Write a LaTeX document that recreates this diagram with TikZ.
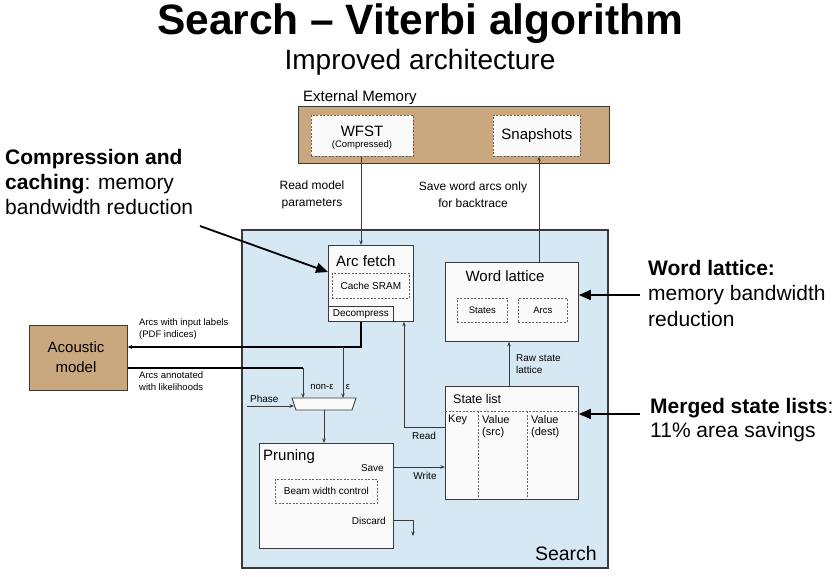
\documentclass[tikz,border=0pt]{standalone}
\usepackage{fontspec}
\setmainfont{Liberation Sans}
\usetikzlibrary{arrows.meta,calc}
\definecolor{memtan}{HTML}{C9A87F}
\definecolor{searchblue}{HTML}{D6E8F3}
\definecolor{boxwhite}{HTML}{FAFAFA}
\definecolor{edgegray}{HTML}{3A3A3A}
\begin{document}
\begin{tikzpicture}[x=1pt,y=-1pt,
  fs/.style={font=\fontsize{#1}{#1}\selectfont},
  lbl/.style={inner sep=0pt, text=black},
  box/.style={draw=edgegray, line width=0.8pt, fill=boxwhite, inner sep=0pt, anchor=north west},
  dbox/.style={draw=edgegray!80, line width=0.7pt, dash pattern=on 2pt off 1.5pt, fill=boxwhite, inner sep=0pt, anchor=north west},
  conn/.style={draw=edgegray, line width=0.8pt, -{Stealth[length=4.5pt,width=3.5pt]}},
  thickconn/.style={draw=black, line width=1.6pt, -{Stealth[length=4.5pt,width=4pt]}},
  bigarrow/.style={draw=black, line width=1.8pt, -{Triangle[length=12pt,width=10pt]}},
]
\useasboundingbox (0,0) rectangle (838,577);
\fill[white] (0,0) rectangle (838,577);

% titles
\node[lbl, fs=42.5, font=\bfseries\fontsize{42.5}{42.5}\selectfont, anchor=base] (title) at (420,35) {Search -- Viterbi algorithm};
\node[lbl, fs=28, anchor=base] (subtitle) at (420,70) {Improved architecture};

% external memory
\node[lbl, fs=15, anchor=base west] (extlbl) at (303,102) {External Memory};
\node[box, fill=memtan, line width=1.2pt, minimum width=311, minimum height=57] (extmem) at (298,106) {};
\node[dbox, minimum width=102, minimum height=41] (wfst) at (311,115) {};
\node[lbl, fs=15] (wfsttxt) at (362,131) {WFST};
\node[lbl, fs=9.5] (wfstsub) at (362,145) {(Compressed)};
\node[dbox, minimum width=87, minimum height=41, fs=15] (snap) at (493,115) {Snapshots};

% search region
\node[box, fill=searchblue, line width=1.8pt, minimum width=366, minimum height=338] (search) at (241,229) {};
\node[lbl, fs=19.5, anchor=base east] (searchlbl) at (597,560) {Search};

% acoustic model
\node[box, fill=memtan, minimum width=98, minimum height=65] (acoustic) at (29,325) {};
\node[lbl, fs=15, align=center, font=\fontsize{15}{20}\selectfont] (acotxt) at (76,357) {Acoustic\\model};

% arc fetch
\node[box, minimum width=85, minimum height=76] (arcfetch) at (328,245) {};
\node[lbl, fs=15, anchor=west] (aftxt) at (336,261) {Arc fetch};
\node[dbox, minimum width=77, minimum height=25, fs=10] (cache) at (332,273) {Cache SRAM};
\node[box, minimum width=65, minimum height=15, fs=10] (decomp) at (328,306) {Decompress};

% word lattice
\node[box, minimum width=133, minimum height=79] (wlat) at (445,262) {};
\node[lbl, fs=15] (wltxt) at (505,276) {Word lattice};
\node[dbox, minimum width=50, minimum height=24, fs=9.5] (states) at (457,298) {States};
\node[dbox, minimum width=49, minimum height=24, fs=9.5] (arcs) at (518,298) {Arcs};

% state list
\node[box, minimum width=133, minimum height=113] (slist) at (445,386) {};
\node[lbl, fs=12.5, anchor=west] (sltxt) at (453,399) {State list};
\draw[edgegray!80, line width=0.7pt, dash pattern=on 2pt off 1.5pt] (445,411) -- (578,411);
\draw[edgegray!80, line width=0.7pt, dash pattern=on 2pt off 1.5pt] (478,411) -- (478,499);
\draw[edgegray!80, line width=0.7pt, dash pattern=on 2pt off 1.5pt] (527,411) -- (527,499);
\node[lbl, fs=11, anchor=north west] (keytxt) at (448,415) {Key};
\node[lbl, fs=11, anchor=north west, align=left, font=\fontsize{11}{12}\selectfont] (srctxt) at (482,415) {Value\\(src)};
\node[lbl, fs=11, anchor=north west, align=left, font=\fontsize{11}{12}\selectfont] (desttxt) at (531,415) {Value\\(dest)};

% pruning
\node[box, minimum width=134, minimum height=105] (prun) at (259,443) {};
\node[lbl, fs=15, anchor=west] (prtxt) at (263,457) {Pruning};
\node[lbl, fs=10, anchor=east] (savetxt) at (384,468) {Save};
\node[dbox, minimum width=102, minimum height=24, fs=10] (beam) at (275,479) {Beam width control};
\node[lbl, fs=10, anchor=east] (disctxt) at (386,521) {Discard};

% mux
\draw[edgegray, line width=0.8pt, fill=boxwhite] (292,398) -- (356,398) -- (352,410) -- (296,410) -- cycle;
\coordinate (muxNonE) at (303,398);
\coordinate (muxE) at (343,398);
\coordinate (muxL) at (294,406);
\coordinate (muxOut) at (324,410);
\node[lbl, fs=9.5] (nonetxt) at (322,387) {non-ε};
\node[lbl, fs=9.5] (etxt) at (348,387) {ε};
\node[lbl, fs=10, anchor=base west] (phasetxt) at (250,402) {Phase};
\coordinate (phaseStart) at (247,406);

% helper coordinates
\coordinate (afx) at (361,0);
\coordinate (snx) at (539,0);
\coordinate (rdx) at (404,0);
\coordinate (rsx) at (509,0);
\coordinate (y347) at (0,347);
\coordinate (y368) at (0,368);
\coordinate (y427) at (0,427);
\coordinate (y467) at (0,467);
\coordinate (y520) at (0,520);
\coordinate (discEnd) at (413,536);

% connectors
\draw[conn] (wfst.south -| afx) -- (arcfetch.north -| afx);
\draw[conn] (wlat.north -| snx) -- (snap.south -| snx);
\draw[thickconn] (decomp.south -| afx) -- (afx |- y347) -- (acoustic.east |- y347);
\draw[conn] (muxE |- y347) -- (muxE);
\draw[draw=black, line width=1.2pt] (acoustic.east |- y368) -- (muxNonE |- y368);
\draw[conn] (muxNonE |- y368) -- (muxNonE);
\draw[conn] (phaseStart) -- (muxL);
\draw[conn] (muxOut) -- (prun.north -| muxOut);
\draw[conn] (prun.east |- y467) -- (slist.west |- y467);
\draw[conn] (prun.east |- y520) -- (discEnd |- y520) -- (discEnd);
\draw[conn] (slist.west |- y427) -- (rdx |- y427) -- (rdx |- arcfetch.south);
\draw[conn] (slist.north -| rsx) -- (wlat.south -| rsx);

% connector labels
\node[lbl, fs=12, align=center, font=\fontsize{12}{17}\selectfont] (readmodel) at (312,195) {Read model\\parameters};
\node[lbl, fs=12, align=center, font=\fontsize{12}{17}\selectfont] (savearcs) at (473,195) {Save word arcs only\\for backtrace};
\node[lbl, fs=9.5, anchor=west, align=left, font=\fontsize{9.5}{12}\selectfont] (inlbl) at (139,329) {Arcs with input labels\\(PDF indices)};
\node[lbl, fs=9.5, anchor=west, align=left, font=\fontsize{9.5}{12}\selectfont] (annlbl) at (139,381) {Arcs annotated\\with likelihoods};
\node[lbl, fs=10, anchor=west, align=left, font=\fontsize{10}{12}\selectfont] (rawlbl) at (516,364) {Raw state\\lattice};
\node[lbl, fs=10] (readlbl) at (424,436) {Read};
\node[lbl, fs=10] (writelbl) at (425,476) {Write};

% annotations
\node[lbl, anchor=west, align=left, font=\fontsize{21}{25}\selectfont] (annleft) at (5,182) {\textbf{Compression and}\\\textbf{caching}: memory\\bandwidth reduction};
\node[lbl, anchor=west, align=left, font=\fontsize{21}{25.5}\selectfont] (annwl) at (648,293) {\textbf{Word lattice:}\\memory bandwidth\\reduction};
\node[lbl, anchor=west, align=left, font=\fontsize{21}{24}\selectfont] (annsl) at (650,420) {\textbf{Merged state lists}:\\11\% area savings};
\coordinate (annleftEnd) at (200,226);
\coordinate (annwlStart) at (640,295);
\coordinate (annslStart) at (640,414);
\draw[bigarrow] (annleftEnd) -- (arcfetch.west |- 0,272);
\draw[bigarrow] (annwlStart) -- (wlat.east |- annwlStart);
\draw[bigarrow] (annslStart) -- (slist.east |- annslStart);
\end{tikzpicture}
\end{document}
